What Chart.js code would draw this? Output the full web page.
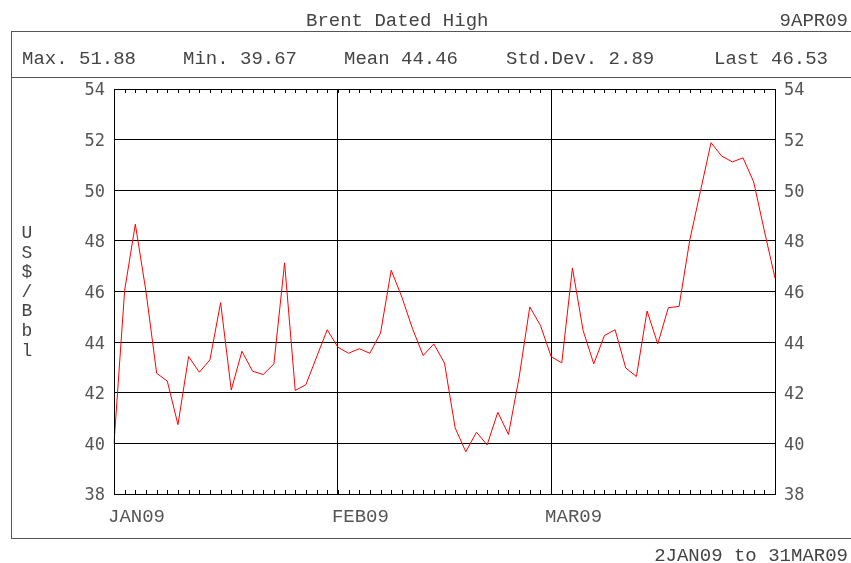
<!DOCTYPE html>
<html>
<head>
<meta charset="utf-8">
<script src="https://cdn.jsdelivr.net/npm/chart.js@4"></script>
<style>
  body { margin: 0; background: #fff; }
  #wrap { position: relative; width: 851px; height: 563px; overflow: hidden; font-family: "Liberation Mono", monospace; color: #444; }
  #chart { position: absolute; left: 0; top: 0; }
  .txt { position: absolute; font-size: 19px; line-height: 19px; white-space: pre; }
  .frame { position: absolute; left: 11px; top: 31px; width: 860px; height: 506px; border: 1px solid #555; }
  .sep { position: absolute; left: 11px; top: 77px; width: 860px; height: 0; border-top: 1px solid #555; }
  .ytitle { position: absolute; left: 19px; top: 224px; width: 16px; font-size: 18px; line-height: 19.6px; text-align: center; }
</style>
</head>
<body>
<div id="wrap">
  <div class="frame"></div>
  <div class="sep"></div>
  <canvas id="chart" width="851" height="563"></canvas>
  <div class="txt" style="left:306px; top:12px;">Brent Dated High</div>
  <div class="txt" style="right:3px; top:12px;">9APR09</div>
  <div class="txt" style="left:22px; top:50px;">Max. 51.88</div>
  <div class="txt" style="left:183px; top:50px;">Min. 39.67</div>
  <div class="txt" style="left:344px; top:50px;">Mean 44.46</div>
  <div class="txt" style="left:506px; top:50px;">Std.Dev. 2.89</div>
  <div class="txt" style="left:714px; top:50px;">Last 46.53</div>
  <div class="ytitle">U<br>S<br>$<br>/<br>B<br>b<br>l</div>
  <div class="txt" style="right:3px; top:547px;">2JAN09 to 31MAR09</div>
</div>
<script>
const dates = [
  "2JAN09", "5JAN09", "6JAN09", "7JAN09", "8JAN09", "9JAN09", "12JAN09", "13JAN09", "14JAN09", "15JAN09", "16JAN09",
  "19JAN09", "20JAN09", "21JAN09", "22JAN09", "23JAN09", "26JAN09", "27JAN09", "28JAN09", "29JAN09", "30JAN09",
  "2FEB09", "3FEB09", "4FEB09", "5FEB09", "6FEB09", "9FEB09", "10FEB09", "11FEB09", "12FEB09", "13FEB09",
  "16FEB09", "17FEB09", "18FEB09", "19FEB09", "20FEB09", "23FEB09", "24FEB09", "25FEB09", "26FEB09", "27FEB09",
  "2MAR09", "3MAR09", "4MAR09", "5MAR09", "6MAR09", "9MAR09", "10MAR09", "11MAR09", "12MAR09", "13MAR09",
  "16MAR09", "17MAR09", "18MAR09", "19MAR09", "20MAR09", "23MAR09", "24MAR09", "25MAR09", "26MAR09", "27MAR09",
  "30MAR09", "31MAR09",
];

const prices = [
  40.00, 46.05, 48.66, 46.00, 42.77, 42.46, 40.74, 43.43, 42.81, 43.30, 45.56,
  42.11, 43.64, 42.85, 42.72, 43.14, 47.13, 42.09, 42.32, 43.41, 44.49,
  43.80, 43.56, 43.74, 43.56, 44.36, 46.84, 45.78, 44.53, 43.47, 43.93,
  43.17, 40.61, 39.67, 40.44, 39.94, 41.23, 40.35, 42.61, 45.39, 44.66,
  43.43, 43.18, 46.93, 44.46, 43.14, 44.26, 44.49, 42.98, 42.64, 45.23,
  43.93, 45.36, 45.41, 48.02, 49.95, 51.88, 51.35, 51.12, 51.28, 50.33,
  48.40, 46.53,
];

const monthStarts = ["2JAN09", "2FEB09", "2MAR09"];
const monthLabels = ["JAN09", "FEB09", "MAR09"];

const yMin = 38;
const yMax = 54;
const yStep = 2;

// small tick marks along top and bottom edges, one per trading day
const frameTicks = {
  id: "frameTicks",
  afterDatasetsDraw(chart) {
    const { ctx, chartArea, scales } = chart;
    ctx.save();
    ctx.strokeStyle = "#000";
    ctx.lineWidth = 1;
    ctx.beginPath();
    dates.forEach((d, i) => {
      const x = Math.round(scales.x.getPixelForValue(i)) + 0.5;
      ctx.moveTo(x, chartArea.top);
      ctx.lineTo(x, chartArea.top + 4);
      ctx.moveTo(x, chartArea.bottom);
      ctx.lineTo(x, chartArea.bottom - 4);
    });
    ctx.stroke();
    ctx.strokeRect(Math.round(chartArea.left) + 0.5, Math.round(chartArea.top) + 0.5,
      Math.round(chartArea.right - chartArea.left), Math.round(chartArea.bottom - chartArea.top));
    ctx.restore();
  },
};

const yTicks = {
  padding: 9,
  stepSize: yStep,
  labelOffset: 2,
  color: "#555",
  font: { family: "DejaVu Sans Mono", size: 17 },
};

new Chart(document.getElementById("chart"), {
  type: "line",
  data: {
    labels: dates,
    datasets: [
      {
        data: prices,
        borderColor: "#ff0000",
        borderWidth: 1,
        pointRadius: 0,
        tension: 0,
        fill: false,
      },
    ],
  },
  options: {
    responsive: false,
    animation: false,
    devicePixelRatio: 1,
    layout: { padding: { top: 89, left: 0, right: 0, bottom: 0 } },
    plugins: { legend: { display: false }, tooltip: { enabled: false } },
    scales: {
      x: {
        type: "category",
        offset: false,
        afterFit: (scale) => { scale.height = 69; },
        grid: {
          drawTicks: false,
          color: (ctx) => (ctx.tick && monthStarts.includes(dates[ctx.tick.value]) ? "#000" : "rgba(0,0,0,0)"),
        },
        border: { color: "#000" },
        ticks: {
          autoSkip: false,
          maxRotation: 0,
          align: "start",
          labelOffset: -6,
          padding: 12,
          color: "#555",
          font: { family: "Liberation Mono", size: 19 },
          callback: (value) => {
            const k = monthStarts.indexOf(dates[value]);
            return k >= 0 ? monthLabels[k] : "";
          },
        },
      },
      y: {
        position: "left",
        min: yMin,
        max: yMax,
        afterFit: (scale) => { scale.width = 114; },
        grid: { drawTicks: false, color: "#000" },
        border: { color: "#000" },
        ticks: yTicks,
      },
      y2: {
        position: "right",
        min: yMin,
        max: yMax,
        afterFit: (scale) => { scale.width = 76; },
        grid: { drawOnChartArea: false, drawTicks: false },
        border: { color: "#000" },
        ticks: yTicks,
      },
    },
  },
  plugins: [frameTicks],
});
</script>
</body>
</html>
